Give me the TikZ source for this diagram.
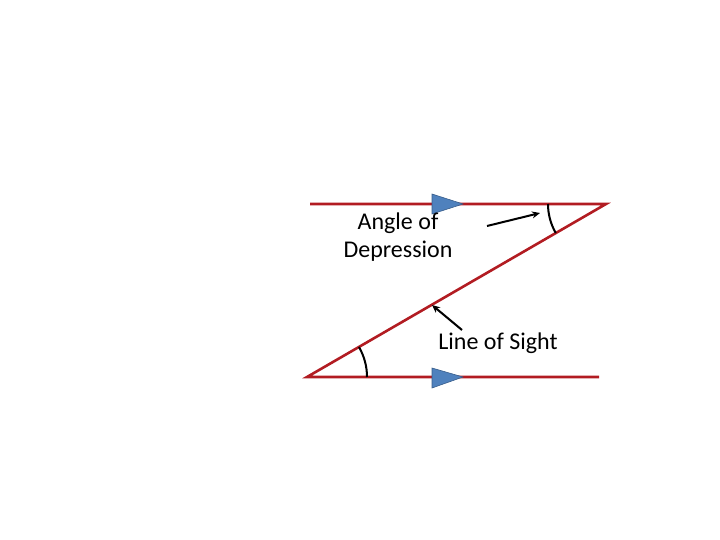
\documentclass[tikz,border=0pt]{standalone}
\usepackage{fontspec}
\setmainfont{Carlito}
\usetikzlibrary{calc,arrows.meta}
\definecolor{ln}{RGB}{178,28,34}
\definecolor{tri}{RGB}{79,129,189}
\definecolor{trid}{RGB}{56,93,138}
\begin{document}
\begin{tikzpicture}[x=1pt,y=-1pt,
  redline/.style={draw=ln,line width=2.6pt},
  marker/.style={fill=tri,draw=trid,line width=0.6pt},
  pointer/.style={draw=black,line width=2pt,-{Stealth[length=8pt,width=7pt]}},
  lbl/.style={font=\fontsize{24}{28}\selectfont,align=center,inner sep=0pt}]
\useasboundingbox (0,0) rectangle (720,540);
\coordinate (tl) at (310,204);
\coordinate (tr) at (606,204);
\coordinate (bl) at (307,377);
\coordinate (br) at (599,377);
\draw[redline] (tl) -- (tr) -- (bl) -- (br);
\draw[marker] (432,194) -- (463,204) -- (432,214) -- cycle;
\draw[marker] (432,368) -- (463,377) -- (432,388) -- cycle;
\draw[line width=2pt] ($(tr)+(-58,0)$) arc[start angle=180,end angle=150,radius=58];
\draw[line width=2pt] ($(bl)+(60,0)$) arc[start angle=0,end angle=-30,radius=60];
\node[lbl] (aod) at (398,237) {Angle of\\Depression};
\node[lbl] (los) at (498,343) {Line of Sight};
\coordinate (a1) at (487,226);
\coordinate (a2) at (540,213);
\coordinate (b1) at (462,330);
\coordinate (b2) at (432,305);
\draw[pointer] (a1) -- (a2);
\draw[pointer] (b1) -- (b2);
\end{tikzpicture}
\end{document}
